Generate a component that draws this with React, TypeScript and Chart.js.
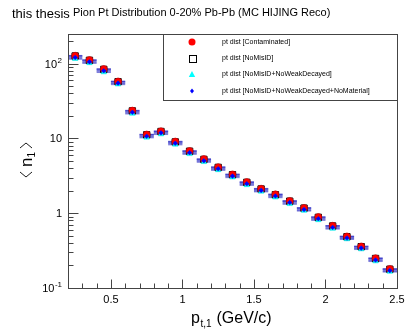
import React, { useEffect, useRef } from "react";
import { Chart, registerables } from "chart.js";

Chart.register(...registerables);

// ---- data ----
const ptCenters = [0.25, 0.35, 0.45, 0.55, 0.65, 0.75, 0.85, 0.95, 1.05, 1.15, 1.25, 1.35, 1.45, 1.55, 1.65, 1.75, 1.85, 1.95, 2.05, 2.15, 2.25, 2.35, 2.45];
const binHalfWidth = 0.05;
const contaminated = [128, 112, 85, 58, 23.6, 11.3, 12.5, 9.1, 6.8, 5.3, 4.14, 3.31, 2.61, 2.13, 1.79, 1.46, 1.18, 0.89, 0.68, 0.49, 0.36, 0.25, 0.18];
const noMisID = [127, 111, 84, 57.5, 23.4, 11.2, 12.4, 9.0, 6.75, 5.25, 4.1, 3.28, 2.59, 2.11, 1.77, 1.45, 1.17, 0.88, 0.675, 0.485, 0.357, 0.248, 0.178];
const noWeakDecayed = [116, 102, 77, 53, 21.5, 10.3, 11.4, 8.3, 6.2, 4.85, 3.78, 3.02, 2.38, 1.95, 1.63, 1.33, 1.08, 0.81, 0.62, 0.45, 0.33, 0.228, 0.165];
const noMaterial = [121, 106, 80.5, 55, 22.4, 10.7, 11.9, 8.65, 6.45, 5.05, 3.93, 3.14, 2.48, 2.02, 1.7, 1.39, 1.12, 0.845, 0.646, 0.466, 0.342, 0.237, 0.171];
const seriesLabels = [
  "pt dist [Contaminated]",
  "pt dist [NoMisID]",
  "pt dist [NoMisID+NoWeakDecayed]",
  "pt dist [NoMisID+NoWeakDecayed+NoMaterial]",
];
const xTickLabels = [0.5, 1, 1.5, 2, 2.5];
const xMinorStep = 0.1;
const yTickValues = [0.1, 1, 10, 100];
const yTickBase = ["10", "1", "10", "10"];
const yTickExp = ["-1", "", "", "2"];
const xRange = [0.2, 2.5];
const yRange = [0.1, 250];
const mainTitle = "this thesis";
const subTitle = "Pion Pt Distribution 0-20% Pb-Pb (MC HIJING Reco)";

const FONT = '"Liberation Sans", Arial, Helvetica, sans-serif';

function toPoints(vals: number[]) {
  return ptCenters.map((x, i) => ({ x, y: vals[i] }));
}

function drawMarker(ctx: CanvasRenderingContext2D, kind: number, x: number, y: number) {
  ctx.save();
  if (kind === 0) {
    ctx.fillStyle = "#ff0000";
    ctx.beginPath();
    ctx.arc(x, y, 3.5, 0, Math.PI * 2);
    ctx.fill();
  } else if (kind === 1) {
    ctx.strokeStyle = "#000";
    ctx.lineWidth = 1;
    ctx.strokeRect(Math.round(x - 3.5) + 0.5, Math.round(y - 3.5) + 0.5, 7, 7);
  } else if (kind === 2) {
    ctx.fillStyle = "#00ffff";
    ctx.beginPath();
    ctx.moveTo(x, y - 3.5);
    ctx.lineTo(x + 3.2, y + 2.5);
    ctx.lineTo(x - 3.2, y + 2.5);
    ctx.closePath();
    ctx.fill();
  } else {
    ctx.fillStyle = "#0000ff";
    ctx.beginPath();
    ctx.moveTo(x, y - 2.5);
    ctx.lineTo(x + 2, y);
    ctx.lineTo(x, y + 2.5);
    ctx.lineTo(x - 2, y);
    ctx.closePath();
    ctx.fill();
  }
  ctx.restore();
}

const rootPlugin = {
  id: "rootStyle",
  beforeDatasetsDraw(chart: any) {
    const ctx: CanvasRenderingContext2D = chart.ctx;
    const xs = chart.scales.x;
    const ys = chart.scales.y;
    ctx.save();
    chart.data.datasets.forEach((ds: any) => {
      ctx.strokeStyle = "rgba(20,20,190,0.55)";
      ctx.lineWidth = 1.6;
      ds.data.forEach((p: any) => {
        const y = ys.getPixelForValue(p.y);
        ctx.beginPath();
        ctx.moveTo(xs.getPixelForValue(p.x - binHalfWidth), y);
        ctx.lineTo(xs.getPixelForValue(p.x + binHalfWidth), y);
        ctx.stroke();
      });
    });
    ctx.restore();
  },
  afterDraw(chart: any) {
    const ctx: CanvasRenderingContext2D = chart.ctx;
    const xs = chart.scales.x;
    const ys = chart.scales.y;
    const a = chart.chartArea;
    ctx.save();
    // frame
    ctx.strokeStyle = "#444";
    ctx.lineWidth = 1;
    ctx.strokeRect(Math.round(a.left) + 0.5, Math.round(a.top) + 0.5, Math.round(a.right - a.left), Math.round(a.bottom - a.top));

    // x ticks
    const bottom = Math.round(a.bottom) + 0.5;
    for (let v = xRange[0]; v <= xRange[1] + 1e-9; v += xMinorStep) {
      const vv = Math.round(v * 10) / 10;
      const px = Math.round(xs.getPixelForValue(vv)) + 0.5;
      const major = xTickLabels.some((t) => Math.abs(t - vv) < 1e-6);
      ctx.beginPath();
      ctx.moveTo(px, bottom);
      ctx.lineTo(px, bottom - (major ? 9 : 5));
      ctx.stroke();
    }
    ctx.fillStyle = "#000";
    ctx.font = `11px ${FONT}`;
    ctx.textAlign = "center";
    ctx.textBaseline = "alphabetic";
    xTickLabels.forEach((t) => {
      ctx.fillText(String(t), xs.getPixelForValue(t), a.bottom + 15);
    });

    // y ticks (log)
    const left = Math.round(a.left) + 0.5;
    for (let e = -1; e <= 2; e++) {
      for (let m = 1; m <= 9; m++) {
        const v = m * Math.pow(10, e);
        if (v < yRange[0] || v > yRange[1]) continue;
        const py = Math.round(ys.getPixelForValue(v)) + 0.5;
        ctx.beginPath();
        ctx.moveTo(left, py);
        ctx.lineTo(left + (m === 1 ? 10 : 5), py);
        ctx.stroke();
      }
    }
    yTickValues.forEach((v, i) => {
      const py = ys.getPixelForValue(v);
      const rightEdge = a.left - 6;
      ctx.textAlign = "right";
      if (yTickExp[i]) {
        ctx.font = `8px ${FONT}`;
        const ew = ctx.measureText(yTickExp[i]).width;
        ctx.fillText(yTickExp[i], rightEdge, py - 1);
        ctx.font = `11px ${FONT}`;
        ctx.fillText(yTickBase[i], rightEdge - ew - 0.5, py + 4);
      } else {
        ctx.font = `11px ${FONT}`;
        ctx.fillText(yTickBase[i], rightEdge, py + 4);
      }
    });

    // x axis title: p_{t,1} (GeV/c)
    ctx.textAlign = "left";
    ctx.font = `16px ${FONT}`;
    const xBase = 323;
    let cx = 191;
    ctx.fillText("p", cx, xBase);
    cx += ctx.measureText("p").width;
    ctx.font = `10px ${FONT}`;
    ctx.fillText("t,1", cx + 0.5, xBase + 4);
    cx += ctx.measureText("t,1").width + 1;
    ctx.font = `16px ${FONT}`;
    ctx.fillText(" (GeV/c)", cx, xBase);

    // y axis title: < n_1 >
    ctx.save();
    ctx.translate(27, 160);
    ctx.rotate(-Math.PI / 2);
    ctx.strokeStyle = "#000";
    ctx.lineWidth = 0.9;
    ctx.beginPath();
    ctx.moveTo(-12, -7);
    ctx.lineTo(-17, -1);
    ctx.lineTo(-12, 5);
    ctx.stroke();
    ctx.font = `17px ${FONT}`;
    ctx.textAlign = "left";
    ctx.fillText("n", -7, 5);
    ctx.font = `10px ${FONT}`;
    ctx.fillText("1", 2.5, 8);
    ctx.beginPath();
    ctx.moveTo(12, -7);
    ctx.lineTo(17, -1);
    ctx.lineTo(12, 5);
    ctx.stroke();
    ctx.restore();

    // titles
    ctx.fillStyle = "#000";
    ctx.textAlign = "left";
    ctx.font = `13px ${FONT}`;
    ctx.fillText(mainTitle, 12, 18);
    ctx.font = `11px ${FONT}`;
    ctx.fillText(subTitle, 73, 16);

    // legend
    const lx = 163.5, ly = Math.round(a.top) + 0.5, lw = Math.round(a.right) - 163, lh = 66;
    ctx.fillStyle = "#fff";
    ctx.fillRect(lx, ly, lw, lh);
    ctx.strokeStyle = "#444";
    ctx.strokeRect(lx, ly, lw, lh);
    const rowsY = [42, 58, 74.5, 91];
    ctx.font = `7px ${FONT}`;
    seriesLabels.forEach((lbl, i) => {
      drawMarker(ctx, i, 192, rowsY[i]);
      ctx.fillStyle = "#000";
      ctx.textBaseline = "middle";
      ctx.fillText(lbl, 222, rowsY[i]);
    });
    ctx.restore();
  },
};

export default function App() {
  const ref = useRef<HTMLCanvasElement | null>(null);
  useEffect(() => {
    if (!ref.current) return;
    const chart = new Chart(ref.current, {
      type: "scatter",
      data: {
        datasets: [
          {
            label: seriesLabels[0],
            data: toPoints(contaminated),
            pointStyle: "circle",
            pointRadius: 3.5,
            backgroundColor: "#ff0000",
            borderColor: "#c00000",
            borderWidth: 0.6,
            order: 2,
          },
          {
            label: seriesLabels[1],
            data: toPoints(noMisID),
            pointStyle: "rect",
            pointRadius: 4.5,
            backgroundColor: "rgba(0,0,0,0)",
            borderColor: "#000",
            borderWidth: 1,
            order: 3,
          },
          {
            label: seriesLabels[2],
            data: toPoints(noWeakDecayed),
            pointStyle: "triangle",
            pointRadius: 3.2,
            backgroundColor: "#00ffff",
            borderColor: "#00e0e0",
            borderWidth: 0.5,
            order: 1,
          },
          {
            label: seriesLabels[3],
            data: toPoints(noMaterial),
            pointStyle: "rectRot",
            pointRadius: 2.3,
            backgroundColor: "#0000ff",
            borderColor: "#0000ff",
            borderWidth: 0.5,
            order: 0,
          },
        ],
      },
      options: {
        responsive: false,
        animation: false,
        devicePixelRatio: 1,
        layout: { padding: { left: 68, right: 10, top: 34, bottom: 47 } },
        plugins: { legend: { display: false }, tooltip: { enabled: false }, title: { display: false } },
        scales: {
          x: { type: "linear", min: xRange[0], max: xRange[1], display: false },
          y: { type: "logarithmic", min: yRange[0], max: yRange[1], display: false },
        },
      },
      plugins: [rootPlugin],
    });
    return () => chart.destroy();
  }, []);
  return (
    <div style={{ position: "absolute", left: 0, top: 0, width: 407, height: 335, background: "#fff" }}>
      <canvas ref={ref} width={407} height={335} style={{ display: "block" }} />
    </div>
  );
}
